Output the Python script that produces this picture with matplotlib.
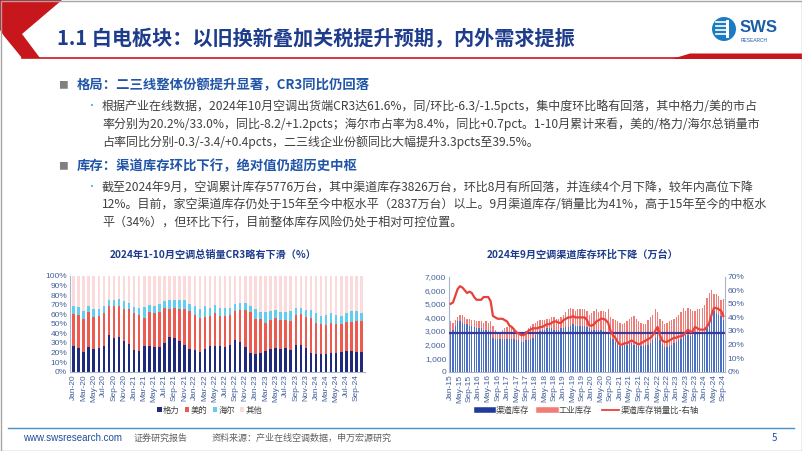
import numpy as np
import matplotlib
matplotlib.use('Agg')
import matplotlib.pyplot as plt
from matplotlib.patches import Polygon, Rectangle, Circle
from matplotlib.lines import Line2D
from matplotlib.ticker import FuncFormatter

plt.rcParams['font.family'] = ['Noto Sans CJK SC', 'DejaVu Sans']

W, H = 802, 451

# ---- left chart data: market share (%), Jan-20 .. Oct-24
gree = [27, 25, 21, 26, 24, 25, 27, 38, 35, 36, 32, 29,
        23, 22, 27, 27, 26, 26, 30, 36, 35, 32, 28, 24,
        23, 21, 24, 27, 27, 27, 26, 28, 33, 31, 26, 20,
        18, 20, 22, 24, 25, 24, 25, 23, 28, 28, 25, 20,
        18, 18, 19, 20, 20, 21, 22, 22, 21, 20.2]
midea = [33, 34, 34, 36, 33, 33, 34, 31, 34, 33, 34, 36,
         38, 37, 29, 35, 35, 36, 37, 30, 32, 34, 38, 39,
         36, 35, 33, 31, 34, 31, 32, 31, 30, 33, 38, 42,
         37, 35, 29, 30, 31, 30, 29, 30, 31, 32, 32, 36,
         33, 32, 30, 31, 30, 29, 30, 30, 32, 33.0]
haier = [9, 9, 8, 7, 8, 8, 8, 6, 6, 7, 8, 7,
         7, 8, 12, 8, 8, 9, 7, 9, 8, 9, 9, 8,
         10, 10, 12, 9, 9, 9, 9, 8, 8, 8, 8, 7,
         10, 7, 11, 9, 8, 8, 8, 10, 8, 7, 7, 8,
         10, 8, 10, 10, 9, 8, 9, 11, 10, 8.4]
share_months = ['Jan-20', 'Mar-20', 'May-20', 'Jul-20', 'Sep-20', 'Nov-20',
                'Jan-21', 'Mar-21', 'May-21', 'Jul-21', 'Sep-21', 'Nov-21',
                'Jan-22', 'Mar-22', 'May-22', 'Jul-22', 'Sep-22', 'Nov-22',
                'Jan-23', 'Mar-23', 'May-23', 'Jul-23', 'Sep-23', 'Nov-23',
                'Jan-24', 'Mar-24', 'May-24', 'Jul-24', 'Sep-24']

# ---- right chart data: inventory (万台) and ratio (%), Jan-15 .. Sep-24
channel_inv = [2900, 3100, 3400, 3700, 3700, 3600, 3500, 3500, 3400, 3400, 3300, 3200,
               3200, 3200, 3100, 3100, 3100, 3000, 2500, 2400, 2400, 2400, 2400, 2400,
               2400, 2400, 2400, 2400, 2300, 2300, 2200, 2200, 2300, 2300, 2400, 2500,
               2700, 2900, 3000, 3100, 3100, 3200, 3200, 3200, 3100, 3100, 3100, 3200,
               3200, 3300, 3300, 3400, 3500, 3400, 3400, 3400, 3400, 3400, 3300, 3200,
               3100, 3100, 3100, 3100, 3100, 3000, 2900, 2800, 2500, 2400, 2200, 2100,
               1900, 1900, 2000, 2000, 2100, 2100, 2000, 2000, 1900, 1900, 1900, 2000,
               2000, 2100, 2300, 2500, 2700, 2300, 2000, 1800, 1800, 1900, 2000, 2100,
               2200, 2300, 2400, 2600, 2700, 2700, 2600, 2700, 2800, 2800, 2800, 2800,
               2900, 3200, 3700, 4300, 4500, 4300, 4200, 4100, 3826]
total_inv = [3700, 3600, 3800, 4000, 4200, 4200, 4000, 3900, 3900, 3800, 3800, 3700,
             3700, 3700, 3600, 3700, 3600, 3700, 3400, 3100, 2900, 2800, 3100, 3200,
             3300, 3400, 3300, 3100, 3000, 2700, 2600, 2800, 3000, 3200, 3400, 3500,
             3600, 3700, 3800, 3800, 3800, 3900, 3900, 4000, 4000, 3900, 3900, 4000,
             4200, 4400, 4600, 4700, 4600, 4500, 4600, 4600, 4600, 4600, 4500, 4200,
             4300, 4500, 4600, 4400, 4500, 4500, 4400, 4600, 4000, 3900, 3800, 3700,
             3600, 3500, 3600, 3700, 3900, 4000, 4100, 3900, 3700, 3600, 3500, 3500,
             3800, 4000, 4200, 4600, 4400, 3900, 3700, 3500, 3600, 3700, 3800, 3900,
             4000, 4200, 4400, 4700, 4500, 4700, 4600, 4500, 4500, 4600, 4600, 4700,
             4900, 5400, 5800, 6000, 5700, 5700, 5600, 5300, 5350]
inv_ratio = [50, 51, 56, 61, 63, 62, 60, 58, 59, 58, 55, 53,
             53, 53, 55, 55, 55, 52, 41, 40, 39, 39, 39, 38,
             37, 34, 33, 31, 29, 28, 27, 27, 28, 30, 31, 32,
             32, 32, 33, 33, 34, 35, 35, 36, 37, 37, 36, 36,
             38, 39, 40, 40, 41, 40, 40, 40, 40, 40, 38, 34,
             34, 35, 37, 38, 39, 39, 38, 36, 30, 27, 25, 22,
             20, 20, 21, 21, 22, 23, 22, 21, 20, 21, 22, 23,
             24, 25, 27, 30, 33, 27, 23, 22, 22, 23, 24, 25,
             25, 26, 26, 27, 29, 31, 29, 30, 33, 32, 31, 31,
             31, 33, 36, 42, 47, 47, 46, 45, 41]
inv_center = 2837
inv_months = ['Jan-15', 'May-15', 'Sep-15', 'Jan-16', 'May-16', 'Sep-16',
              'Jan-17', 'May-17', 'Sep-17', 'Jan-18', 'May-18', 'Sep-18',
              'Jan-19', 'May-19', 'Sep-19', 'Jan-20', 'May-20', 'Sep-20',
              'Jan-21', 'May-21', 'Sep-21', 'Jan-22', 'May-22', 'Sep-22',
              'Jan-23', 'May-23', 'Sep-23', 'Jan-24', 'May-24', 'Sep-24']

title = '1.1 白电板块：以旧换新叠加关税提升预期，内外需求提振'
head1 = '格局：二三线整体份额提升显著，CR3同比仍回落'
para1 = ['根据产业在线数据，2024年10月空调出货端CR3达61.6%，同/环比-6.3/-1.5pcts，集中度环比略有回落，其中格力/美的市占',
         '率分别为20.2%/33.0%，同比-8.2/+1.2pcts；海尔市占率为8.4%，同比+0.7pct。1-10月累计来看，美的/格力/海尔总销量市',
         '占率同比分别-0.3/-3.4/+0.4pcts，二三线企业份额同比大幅提升3.3pcts至39.5%。']
head2 = '库存：渠道库存环比下行，绝对值仍超历史中枢'
para2 = ['截至2024年9月，空调累计库存5776万台，其中渠道库存3826万台，环比8月有所回落，并连续4个月下降，较年内高位下降',
         '12%。目前，家空渠道库存仍处于15年至今中枢水平（2837万台）以上。9月渠道库存/销量比为41%，高于15年至今的中枢水',
         '平（34%），但环比下行，目前整体库存风险仍处于相对可控位置。']

NAVY = '#1E3C8C'
BLUE_H = '#2155A8'
TXT = '#404040'
TICK = '#44609C'

fig = plt.figure(figsize=(W / 100, H / 100), dpi=100)
bg = fig.add_axes([0, 0, 1, 1])
bg.set_xlim(0, W)
bg.set_ylim(H, 0)
bg.axis('off')

# header decoration
bg.add_patch(Polygon([(0, 0), (62, 0), (22, 34), (40, 58), (22, 58), (4, 36), (0, 30)],
                     closed=True, color='#C8161D', lw=0))
bg.plot([22, 802], [58, 58], color='#C8161D', lw=1.2)
bg.add_patch(Polygon([(672, 59), (690, 53.5), (802, 53.5), (802, 59)], closed=True,
                     color='#C8161D', lw=0))
bg.add_patch(Rectangle((0.5, 0.5), W - 1, H - 1, fill=False, ec='#A6A6A6', lw=1))
bg.text(57, 38, title, fontsize=14.5, fontweight='bold', color=NAVY, va='center', ha='left')

# logo
bg.add_patch(Circle((724, 29), 12, color='#1B7CC4', lw=0))
for yy in [22, 26, 30, 34]:
    bg.plot([716, 726], [yy, yy], color='white', lw=1.2)
bg.add_patch(Rectangle((726, 20), 3, 18, color='white', lw=0))
bg.text(740, 28, 'SWS', fontsize=12, fontweight='bold', color='#1B5EA8', va='center',
        ha='left', family='Liberation Sans')
bg.text(741, 40, 'RESEARCH', fontsize=3.5, color='#1B5EA8', va='center', ha='left',
        family='Liberation Sans')

# body text
for ypos, head in [(85, head1), (166, head2)]:
    bg.text(58, ypos, '■', fontsize=7, color='#808080', va='center', ha='left')
    bg.text(77, ypos, head, fontsize=9.6, fontweight='bold', color=BLUE_H, va='center', ha='left')
for y0, lines in [(106, para1), (187, para2)]:
    bg.text(86, y0, '•', fontsize=7, color='#3FA9E0', va='center', ha='left')
    for i, ln in enumerate(lines):
        bg.text(102, y0 + i * 18, ln, fontsize=8.65, color=TXT, va='center', ha='left')

# footer
bg.plot([8, 794], [428, 428], color='#4A90C8', lw=1)
bg.text(23, 438, 'www.swsresearch.com', fontsize=7, color='#1F4E9C', va='center', ha='left',
        family='Liberation Sans')
bg.text(134, 438, '证券研究报告', fontsize=6.5, color='#606060', va='center', ha='left')
bg.text(212, 438, '资料来源：产业在线空调数据，申万宏源研究', fontsize=6.5, color='#606060',
        va='center', ha='left')
bg.text(772, 438, '5', fontsize=7, color='#1F4E9C', va='center', ha='left')

# chart titles
bg.text(213, 255, '2024年1-10月空调总销量CR3略有下滑（%）', fontsize=7.3, fontweight='bold',
        color=NAVY, va='center', ha='center')
bg.text(583, 255, '2024年9月空调渠道库存环比下降（万台）', fontsize=7.3, fontweight='bold',
        color=NAVY, va='center', ha='center')

tick_font = dict(family='Liberation Sans', size=6)

# ---- left chart
ax1 = fig.add_axes([70 / W, 1 - 371.7 / H, (365 - 70) / W, (371.7 - 276) / H])
x1 = np.arange(len(gree))
g = np.array(gree)
m = np.array(midea)
h = np.array(haier)
others = 100 - g - m - h
bw = 0.5
ax1.bar(x1, g, bw, color='#1F2A7C', label='格力')
ax1.bar(x1, m, bw, bottom=g, color='#EC5A50', label='美的')
ax1.bar(x1, h, bw, bottom=g + m, color='#62CDEF', label='海尔')
ax1.bar(x1, others, bw, bottom=g + m + h, color='#FADADA', label='其他')
ax1.set_xlim(-0.7, len(gree) - 0.3)
ax1.set_ylim(0, 100)
ax1.set_yticks(np.arange(0, 101, 10))
ax1.yaxis.set_major_formatter(FuncFormatter(lambda v, p: f'{v:.0f}%'))
ax1.set_xticks(np.arange(0, len(gree), 2))
ax1.set_xticklabels(share_months, rotation=90)
for s in ['top', 'right']:
    ax1.spines[s].set_visible(False)
for s in ['left', 'bottom']:
    ax1.spines[s].set_color('#A8B4D0')
    ax1.spines[s].set_linewidth(0.8)
ax1.tick_params(axis='both', length=0, pad=2, colors=TICK)
for lab in ax1.get_xticklabels() + ax1.get_yticklabels():
    lab.set_fontproperties(tick_font)
    lab.set_color(TICK)
ax1.legend(loc='center', bbox_to_anchor=(210 / W, 1 - 410 / H), bbox_transform=fig.transFigure,
           ncol=4, frameon=False, fontsize=6, handlelength=0.5, handleheight=0.5,
           handletextpad=0.2, columnspacing=0.6, labelcolor='#404040')

# ---- right chart
ax2 = fig.add_axes([449 / W, 1 - 371.7 / H, (725 - 449) / W, (371.7 - 276.7) / H])
x2 = np.arange(len(channel_inv))
ch = np.array(channel_inv)
ind = np.array(total_inv) - ch
bw2 = 0.55
ax2.bar(x2, ch, bw2, color='#4A70C4', zorder=2)
ax2.bar(x2, ind, bw2, bottom=ch, color='#F07C78', zorder=2)
ax2.axhline(inv_center, color='#3A3A9A', lw=1.6, zorder=3)
ax2.set_xlim(-0.7, len(channel_inv) - 0.3)
ax2.set_ylim(0, 7000)
ax2.set_yticks(np.arange(0, 7001, 1000))
ax2.yaxis.set_major_formatter(FuncFormatter(lambda v, p: f'{v:,.0f}'))
ax2.set_xticks(np.arange(0, len(channel_inv), 4))
ax2.set_xticklabels(inv_months, rotation=90)
ax2r = ax2.twinx()
ax2r.plot(x2, np.array(inv_ratio) / 100, color='#E8403A', lw=1.6, zorder=4)
ax2r.set_ylim(0, 0.7)
ax2r.set_yticks(np.arange(0, 0.71, 0.1))
ax2r.yaxis.set_major_formatter(FuncFormatter(lambda v, p: f'{v * 100:.0f}%'))
for a in [ax2, ax2r]:
    a.spines['top'].set_visible(False)
    for s in ['left', 'right', 'bottom']:
        a.spines[s].set_color('#A8B4D0')
        a.spines[s].set_linewidth(0.8)
    a.tick_params(axis='both', length=0, pad=2, colors=TICK)
    for lab in a.get_xticklabels() + a.get_yticklabels():
        lab.set_fontproperties(tick_font)
        lab.set_color(TICK)
ax2.spines['right'].set_visible(False)
ax2r.spines['left'].set_visible(False)
ax2r.spines['bottom'].set_visible(False)

handles = [Line2D([], [], color='#1F3A9A', lw=4), Line2D([], [], color='#F07C78', lw=4),
           Line2D([], [], color='#E8403A', lw=1.3)]
ax2r.legend(handles, ['渠道库存', '工业库存', '渠道库存销量比-右轴'], loc='center',
            bbox_to_anchor=(588 / W, 1 - 410 / H), bbox_transform=fig.transFigure,
            ncol=3, frameon=False, fontsize=6, handlelength=2.0, handletextpad=0.3,
            columnspacing=1.2, labelcolor='#404040')

fig.savefig('out.png', dpi=100)
